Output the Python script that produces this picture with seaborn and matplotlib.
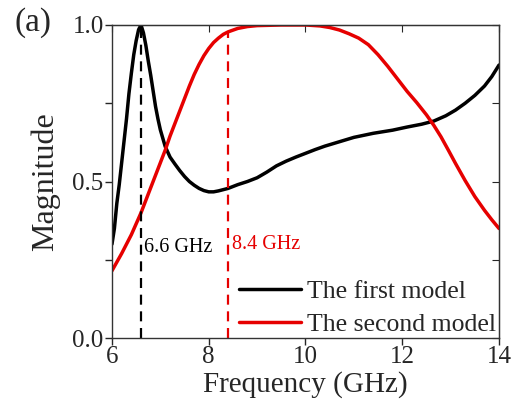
import matplotlib
matplotlib.use("Agg")
import matplotlib.pyplot as plt
import seaborn as sns
import pandas as pd

freq_first = [6.0, 6.05, 6.1, 6.15, 6.2, 6.25, 6.3, 6.35, 6.4, 6.45, 6.5, 6.55, 6.6, 6.65,
              6.7, 6.75, 6.8, 6.85, 6.9, 6.95, 7.0, 7.1, 7.2, 7.3, 7.4, 7.5, 7.6, 7.7, 7.8,
              7.9, 8.0, 8.1, 8.2, 8.3, 8.4, 8.6, 8.8, 9.0, 9.2, 9.4, 9.6, 9.8, 10.0, 10.2,
              10.4, 10.7, 11.0, 11.4, 11.8, 12.1, 12.4, 12.65, 12.9, 13.1, 13.3, 13.5,
              13.7, 13.85, 14.0]
mag_first = [0.30, 0.35, 0.43, 0.49, 0.56, 0.63, 0.70, 0.78, 0.845, 0.905, 0.95, 0.985,
             1.00, 0.975, 0.935, 0.885, 0.84, 0.79, 0.74, 0.70, 0.665, 0.612, 0.578, 0.556,
             0.535, 0.516, 0.500, 0.488, 0.478, 0.471, 0.467, 0.467, 0.47, 0.474, 0.478,
             0.49, 0.50, 0.512, 0.53, 0.55, 0.565, 0.578, 0.59, 0.602, 0.613, 0.627, 0.641,
             0.654, 0.664, 0.674, 0.683, 0.693, 0.71, 0.728, 0.75, 0.775, 0.805, 0.835, 0.872]

freq_second = [6.0, 6.2, 6.4, 6.6, 6.8, 7.0, 7.1, 7.2, 7.3, 7.4, 7.5, 7.6, 7.7, 7.8, 7.9,
               8.0, 8.1, 8.2, 8.3, 8.4, 8.6, 8.8, 9.0, 9.5, 10.0, 10.3, 10.5, 10.7, 10.9,
               11.1, 11.3, 11.5, 11.7, 11.9, 12.1, 12.3, 12.5, 12.65, 12.8, 12.95, 13.1,
               13.3, 13.5, 13.7, 13.85, 14.0]
mag_second = [0.215, 0.27, 0.33, 0.40, 0.48, 0.56, 0.60, 0.645, 0.685, 0.725, 0.765, 0.805,
              0.842, 0.874, 0.902, 0.925, 0.944, 0.958, 0.97, 0.978, 0.989, 0.995, 0.998, 1.0,
              1.0, 0.997, 0.992, 0.984, 0.972, 0.958, 0.937, 0.905, 0.868, 0.828, 0.788,
              0.752, 0.713, 0.68, 0.643, 0.601, 0.558, 0.503, 0.452, 0.408, 0.378, 0.35]

labels = ["The first model", "The second model"]
marker_freqs = [6.6, 8.4]
marker_tops = [1.0, 0.978]
marker_texts = ["6.6 GHz", "8.4 GHz"]
x_ticks = [6, 8, 10, 12, 14]
y_ticks = [0.0, 0.25, 0.5, 0.75, 1.0]
y_ticklabels = ["0.0", "", "0.5", "", "1.0"]

sns.set_style("ticks")
plt.rcParams["font.family"] = ["Liberation Serif", "DejaVu Serif"]

df = pd.concat([
    pd.DataFrame({"Frequency": freq_first, "Magnitude": mag_first, "Model": labels[0]}),
    pd.DataFrame({"Frequency": freq_second, "Magnitude": mag_second, "Model": labels[1]}),
])

fig = plt.figure(figsize=(5.17, 4.01), dpi=100)
ax = fig.add_axes([0.2166, 0.157, 0.7486, 0.7807])

colors = ["#000000", "#e60000"]
sns.lineplot(data=df, x="Frequency", y="Magnitude", hue="Model", palette=colors,
             linewidth=2.5, ax=ax, sort=True)
for ln in ax.get_lines():
    ln.set_solid_joinstyle("round")
    ln.set_solid_capstyle("round")

for f, top, c in zip(marker_freqs, marker_tops, colors):
    ax.plot([f, f], [0, top], color=c, linestyle=(0, (4.5, 3)), linewidth=1.6)

ax.text(6.66, 0.29, marker_texts[0], color=colors[0], fontsize=14.5, va="center", ha="left")
ax.text(8.48, 0.30, marker_texts[1], color=colors[1], fontsize=14.5, va="center", ha="left")

ax.set_xlim(6, 14)
ax.set_ylim(0, 1.0)
ax.set_xticks(x_ticks)
ax.set_xticklabels([str(t) for t in x_ticks])
ax.set_yticks(y_ticks)
ax.set_yticklabels(y_ticklabels)
ax.tick_params(axis="both", direction="out", length=5, width=1, labelsize=18, pad=1)
for sp in ax.spines.values():
    sp.set_linewidth(1.0)
    sp.set_visible(True)
    sp.set_color("#333333")

sec_x = ax.secondary_xaxis("top")
sec_x.set_xticks(x_ticks)
sec_x.tick_params(direction="in", length=5, labeltop=False)
sec_y = ax.secondary_yaxis("right")
sec_y.set_yticks(y_ticks)
sec_y.tick_params(direction="in", length=5, labelright=False)

ax.set_xlabel("Frequency (GHz)", fontsize=21, labelpad=2)
ax.set_ylabel("Magnitude", fontsize=23, labelpad=9)

leg = ax.legend(loc="lower right", frameon=False, fontsize=18.5, handlelength=2.4,
                handletextpad=0.23, labelspacing=0.4, borderaxespad=0.1,
                bbox_to_anchor=(1.025, -0.035))
for line in leg.get_lines():
    line.set_linewidth(2.5)

fig.text(15 / 517, 1 - 23 / 401, "(a)", fontsize=24, ha="left", va="center")

fig.savefig("out.png", dpi=100)
